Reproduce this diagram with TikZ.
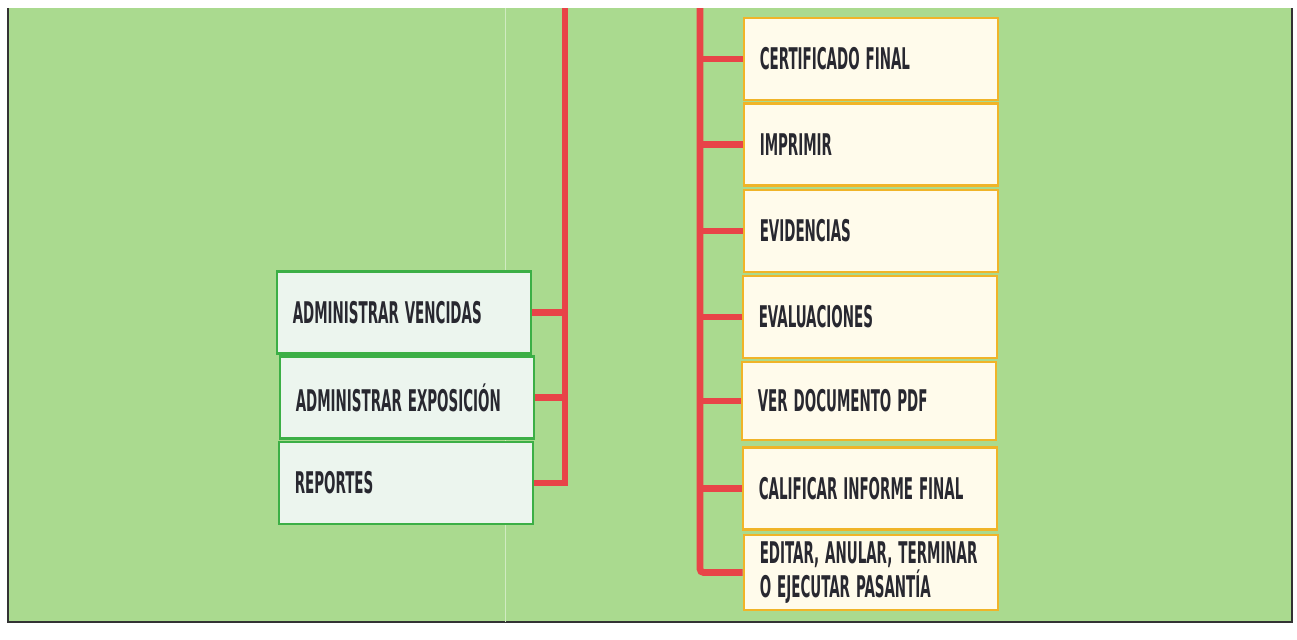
\documentclass[tikz,border=0pt]{standalone}
\usepackage{fontspec}
\setmainfont{DejaVu Sans Condensed}[FakeStretch=0.5]
\usepackage{xcolor}

\definecolor{fondo}{RGB}{170,218,143}
\definecolor{rellenoizq}{RGB}{236,245,238}
\definecolor{bordeizq}{RGB}{60,175,70}
\definecolor{rellenoder}{RGB}{255,251,235}
\definecolor{bordeder}{RGB}{240,180,40}
\definecolor{rama}{RGB}{232,68,72}
\definecolor{letra}{RGB}{40,40,48}

\newcommand{\fuentecaja}{\bfseries\fontsize{17}{16}\selectfont}
\newcommand{\espacioscaja}{\spaceskip=0.2em\relax\xspaceskip=0.2em\relax\hyphenpenalty=10000\relax}

\tikzset{
  caja/.style={rectangle, line width=1.2pt, minimum width=5.04cm, minimum height=1.64cm,
    text width=4.45cm, inner xsep=0.32cm, align=left, text=letra, font=\fuentecaja,
    execute at begin node=\espacioscaja},
  cajaizq/.style={caja, draw=bordeizq, fill=rellenoizq},
  cajader/.style={caja, draw=bordeder, fill=rellenoder},
  tronco/.style={draw=rama, line width=3.8pt}
}

\begin{document}
\begin{tikzpicture}[x=0.02cm,y=-0.02cm]
\useasboundingbox (0,0) rectangle (1297,639);
% background sheet
\fill[fondo] (8,8) rectangle (1292,622);
\draw[black!80, line width=0.8pt] (8,8) -- (8,622) -- (1292,622) -- (1292,8);
\draw[white!45!fondo, line width=0.5pt] (505,8) -- (505,622);

% left group
\node[cajaizq] (vencidas) at (404,312.5) {ADMINISTRAR VENCIDAS};
\node[cajaizq] (exposicion) at (407,397.5) {ADMINISTRAR EXPOSICIÓN};
\node[cajaizq] (reportes) at (406,483) {REPORTES};

% right group
\node[cajader] (certificado) at (871,59) {CERTIFICADO FINAL};
\node[cajader] (imprimir) at (871,144.5) {IMPRIMIR};
\node[cajader] (evidencias) at (871,231) {EVIDENCIAS};
\node[cajader] (evaluaciones) at (870,317) {EVALUACIONES};
\node[cajader, minimum height=1.56cm] (verpdf) at (869,401) {VER DOCUMENTO PDF};
\node[cajader] (calificar) at (870,488.5) {CALIFICAR INFORME FINAL};
\node[cajader, minimum height=1.5cm] (editar) at (871,572.5) {EDITAR, ANULAR, TERMINAR\\O EJECUTAR PASANTÍA};

% red trunks
\coordinate (topizq) at (565,8);
\coordinate (topder) at (700,8);
\draw[tronco] (topizq) |- (reportes.east);
\draw[tronco] (vencidas.east) -- (vencidas.east -| topizq);
\draw[tronco] (exposicion.east) -- (exposicion.east -| topizq);
\draw[tronco, rounded corners=2pt] (topder) |- (editar.west);
\foreach \n in {certificado,imprimir,evidencias,evaluaciones,verpdf,calificar}
  \draw[tronco] (\n.west) -- (\n.west -| topder);
\end{tikzpicture}
\end{document}
